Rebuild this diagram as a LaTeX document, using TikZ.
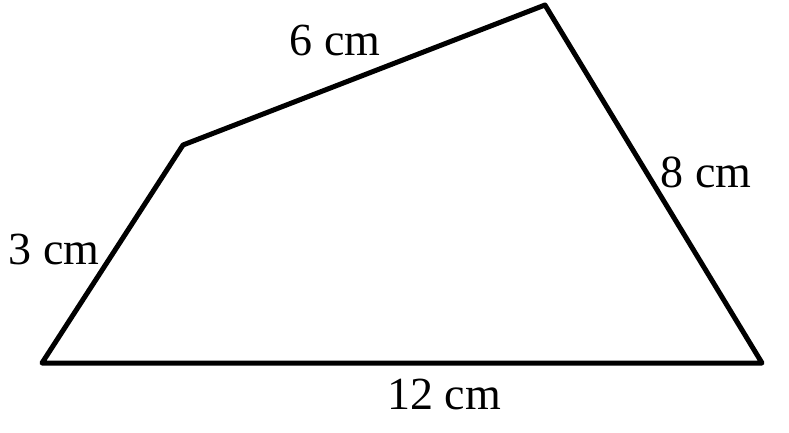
\documentclass[tikz,border=0pt]{standalone}
\usepackage{fontspec}
\setmainfont{Liberation Serif}
\begin{document}
\begin{tikzpicture}[x=1pt,y=-1pt,
  lbl/.style={font=\fontsize{46}{54}\selectfont, inner sep=0pt}]
\useasboundingbox (0,0) rectangle (789,433);
\coordinate (A) at (42,363);
\coordinate (B) at (183,145);
\coordinate (C) at (545,5);
\coordinate (D) at (762,363);
\draw[line width=5pt, line join=round] (A) -- (B) -- (C) -- (D) -- cycle;
\node[lbl] (l6) at (335,40) {6 cm};
\node[lbl] (l8) at (706,172) {8 cm};
\node[lbl] (l3) at (54,249) {3 cm};
\node[lbl] (l12) at (444,394) {12 cm};
\end{tikzpicture}
\end{document}
